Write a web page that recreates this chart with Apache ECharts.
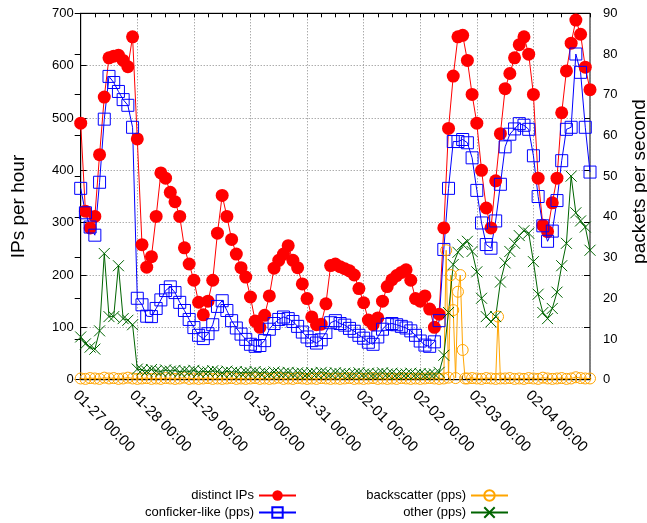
<!DOCTYPE html>
<html>
<head>
<meta charset="utf-8">
<script src="https://cdn.jsdelivr.net/npm/echarts/dist/echarts.min.js"></script>
<style>
  html, body { margin: 0; padding: 0; background: #fff; }
  #chart { width: 647px; height: 523px; }
</style>
</head>
<body>
<div id="chart"></div>
<script>
// hours since 01-27 00:00, sampled every 2 hours
var hours = [0,2,4,6,8,10,12,14,16,18,20,22,24,26,28,30,32,34,36,38,40,42,44,46,
  48,50,52,54,56,58,60,62,64,66,68,70,72,74,76,78,80,82,84,86,88,90,92,94,
  96,98,100,102,104,106,108,110,112,114,116,118,120,122,124,126,128,130,132,134,136,138,140,142,
  144,146,148,150,152,154,156,158,160,162,164,166,168,170,172,174,176,178,180,182,184,186,188,190,
  192,194,196,198,200,202,204,206,208,210,212,214,216];

var tickLabels = ['01-27 00:00', '01-28 00:00', '01-29 00:00', '01-30 00:00', '01-31 00:00',
  '02-01 00:00', '02-02 00:00', '02-03 00:00', '02-04 00:00', ''];

// IPs per hour (left axis)
var distinctIPs = [490,322,290,312,430,540,615,618,620,610,598,655,
  460,258,215,235,312,395,385,358,340,312,252,221,
  190,148,124,150,190,280,352,312,268,240,214,196,
  158,112,100,123,160,213,228,240,256,228,214,183,
  155,120,105,106,145,218,221,216,212,208,200,174,
  147,114,105,118,150,178,191,199,205,210,190,155,
  150,160,135,100,125,290,480,580,655,658,610,545,
  490,400,328,290,380,470,556,585,615,640,655,622,
  545,385,295,283,338,385,510,590,643,687,660,597,
  554];

// packets per second (right axis)
var confickerLike = [47,41,37.5,35.5,48.5,64,74.5,73,70.8,68.8,67.4,62,
  20,18.4,15.6,15.5,17.5,19.6,21.9,22.8,21.4,19,17,14.8,
  12.8,10.9,10.1,11.3,13.5,18,19.4,17,14.5,12.7,11.2,9.9,
  8.7,8.2,8.4,9.6,12.4,13.8,14.8,15.4,15,14.3,13.1,11.7,
  10.5,9.6,9,9.8,11.6,14,14.5,13.8,13.4,12.6,11.9,10.9,
  10.2,9.2,8.7,10.5,12.4,13.6,13.8,13.5,13.1,12.7,12,10.9,
  9.5,8.5,8.2,9.3,14.5,32,47,58.5,58.5,59,58.2,54.5,
  46.5,38.5,33.2,32.3,39,48,57.2,60.3,61.6,62.9,62.5,61.5,
  55,45,37.8,34,36.5,44,53.8,61.5,62,80,75.5,62,
  51];

var backscatter = [0.3,0.2,0.4,0.3,0.2,0.5,0.3,0.4,0.2,0.3,0.5,0.3,
  0.2,0.3,0.4,0.2,0.3,0.2,0.4,0.3,0.2,0.3,0.5,0.2,
  0.3,0.2,0.3,0.4,0.2,0.3,0.2,0.3,0.4,0.2,0.3,0.2,
  0.3,0.4,0.2,0.3,0.2,0.3,0.5,0.2,0.3,0.2,0.4,0.3,
  0.2,0.3,0.2,0.4,0.3,0.2,0.3,0.2,0.3,0.4,0.2,0.3,
  0.2,0.3,0.4,0.2,0.3,0.2,0.3,0.2,0.4,0.3,0.2,0.3,
  0.2,0.3,0.4,0.3,0.2,0.3,0.5,17.1,21.6,7.3,0.3,0.4,
  0.3,0.2,0.4,0.3,0.2,0.3,0.3,0.4,0.2,0.3,0.2,0.4,
  0.3,0.2,0.5,0.3,0.2,0.3,0.4,0.2,0.3,0.6,0.4,0.3,
  0.3];
// odd-hour backscatter readings around the spikes
var backscatterExtraHours = [155, 157, 159, 161, 163, 177];
var backscatterExtra = [31.8, 25.7, 0.4, 25.7, 0.3, 15.5];

var other = [10.5,8.8,8,7.5,12,31,15.5,15.5,28,15,14.6,13.5,
  2.6,2.4,2.1,2.5,2.2,2.0,2.4,2.1,2.3,1.9,2.2,2.0,
  2.3,1.8,2.1,1.9,2.2,2.0,1.7,2.1,1.8,2.0,1.6,1.9,
  1.7,2.0,1.6,1.8,1.5,1.9,1.7,1.6,1.8,1.5,1.7,1.6,
  1.4,1.7,1.5,1.8,1.6,1.4,1.7,1.5,1.6,1.3,1.5,1.7,
  1.4,1.6,1.3,1.5,1.7,1.4,1.6,1.3,1.5,1.4,1.6,1.3,
  1.5,1.2,1.4,1.4,1.8,6,16.5,28.3,31.3,33.2,34,31.5,
  26.5,20,15.5,14.2,15.5,24,28.7,31.5,33.5,35.4,36.6,36,
  29,21,16.5,15,17.5,21.5,28,33.5,50,41,39,37.5,
  31.8];

function pairs(xs, ys) {
  return xs.map(function (x, i) { return [x, ys[i]]; });
}

var bsData = pairs(hours, backscatter).concat(pairs(backscatterExtraHours, backscatterExtra));
bsData.sort(function (a, b) { return a[0] - b[0]; });

var font = 'Liberation Sans, Arial, sans-serif';
var gridLine = { show: true, lineStyle: { color: '#888', type: [1, 2], width: 1 } };
var crossPath = 'path://M0,0L10,10M10,0L0,10';

function legendBox(right, names) {
  return {
    orient: 'vertical', right: right, top: 489, align: 'right', padding: 0,
    itemWidth: 37, itemHeight: 13, itemGap: 4,
    textStyle: { fontFamily: font, fontSize: 13, color: '#000' },
    data: names
  };
}

var chart = echarts.init(document.getElementById('chart'));
chart.setOption({
  animation: false,
  backgroundColor: '#fff',
  textStyle: { fontFamily: font, color: '#000' },
  grid: {
    left: 80.7, right: 57, top: 13.3, bottom: 143.3,
    outerBoundsMode: 'none', containLabel: false,
    show: true, borderColor: '#000', borderWidth: 1, backgroundColor: 'transparent'
  },
  legend: [
    legendBox(350, ['distinct IPs', 'conficker-like (pps)']),
    legendBox(138, ['backscatter (pps)', 'other (pps)'])
  ],
  xAxis: [
    {
      type: 'value', min: 0, max: 216, interval: 24,
      axisLine: { onZero: false, lineStyle: { color: '#000' } },
      axisTick: { inside: true, length: 5, lineStyle: { color: '#000' } },
      minorTick: { show: true, splitNumber: 4, length: 4, lineStyle: { color: '#000' } },
      splitLine: gridLine,
      axisLabel: {
        rotate: -45, margin: 8, fontSize: 15, color: '#000', fontFamily: font,
        verticalAlign: 'top',
        formatter: function (v) { return tickLabels[Math.round(v / 24)] || ''; }
      }
    },
    {
      type: 'value', position: 'top', min: 0, max: 216, interval: 6,
      axisLine: { onZero: false, lineStyle: { color: '#000' } },
      axisTick: { inside: true, length: 4, lineStyle: { color: '#000' } },
      axisLabel: { show: false },
      splitLine: { show: false }
    }
  ],
  yAxis: [
    {
      type: 'value', min: 0, max: 700, interval: 100, position: 'left',
      name: 'IPs per hour', nameLocation: 'middle', nameGap: 52,
      nameTextStyle: { fontSize: 19, fontFamily: font, color: '#000', padding: [0, 20, 0, 0] },
      axisLine: { show: true, lineStyle: { color: '#000' } },
      axisTick: { show: true, inside: true, length: 6, lineStyle: { color: '#000' } },
      axisLabel: { margin: 7, fontSize: 13, color: '#000', fontFamily: font },
      splitLine: gridLine
    },
    {
      type: 'value', min: 0, max: 90, interval: 10, position: 'right',
      name: 'packets per second', nameLocation: 'middle', nameGap: 40,
      nameTextStyle: { fontSize: 19, fontFamily: font, color: '#000', padding: [0, 0, 0, 30] },
      axisLine: { show: true, lineStyle: { color: '#000' } },
      axisTick: { show: true, inside: true, length: 6, lineStyle: { color: '#000' } },
      axisLabel: { margin: 13, fontSize: 13, color: '#000', fontFamily: font },
      splitLine: { show: false }
    },
    {
      type: 'value', min: 0, max: 700, interval: 100, position: 'right',
      axisLine: { show: false },
      axisTick: { show: true, inside: true, length: 6, lineStyle: { color: '#000' } },
      axisLabel: { show: false },
      splitLine: { show: false }
    }
  ],
  series: [
    {
      name: 'distinct IPs', type: 'line', yAxisIndex: 0, clip: false,
      data: pairs(hours, distinctIPs),
      symbol: 'circle', symbolSize: 13,
      itemStyle: { color: '#ff0000', borderWidth: 0 },
      lineStyle: { color: '#ff0000', width: 1 }
    },
    {
      name: 'conficker-like (pps)', type: 'line', yAxisIndex: 1, clip: false,
      data: pairs(hours, confickerLike),
      symbol: 'rect', symbolSize: 12,
      itemStyle: { color: 'rgba(0,0,0,0)', borderColor: '#0000ff', borderWidth: 1 },
      lineStyle: { color: '#0000ff', width: 1 }
    },
    {
      name: 'backscatter (pps)', type: 'line', yAxisIndex: 1, clip: false,
      data: bsData,
      symbol: 'circle', symbolSize: 11,
      itemStyle: { color: 'rgba(0,0,0,0)', borderColor: '#ffa500', borderWidth: 1 },
      lineStyle: { color: '#ffa500', width: 1 }
    },
    {
      name: 'other (pps)', type: 'line', yAxisIndex: 1, clip: false,
      data: pairs(hours, other),
      symbol: crossPath, symbolSize: 11,
      itemStyle: { color: 'rgba(0,0,0,0)', borderColor: '#006400', borderWidth: 1 },
      lineStyle: { color: '#006400', width: 1 }
    }
  ]
});
</script>
</body>
</html>
